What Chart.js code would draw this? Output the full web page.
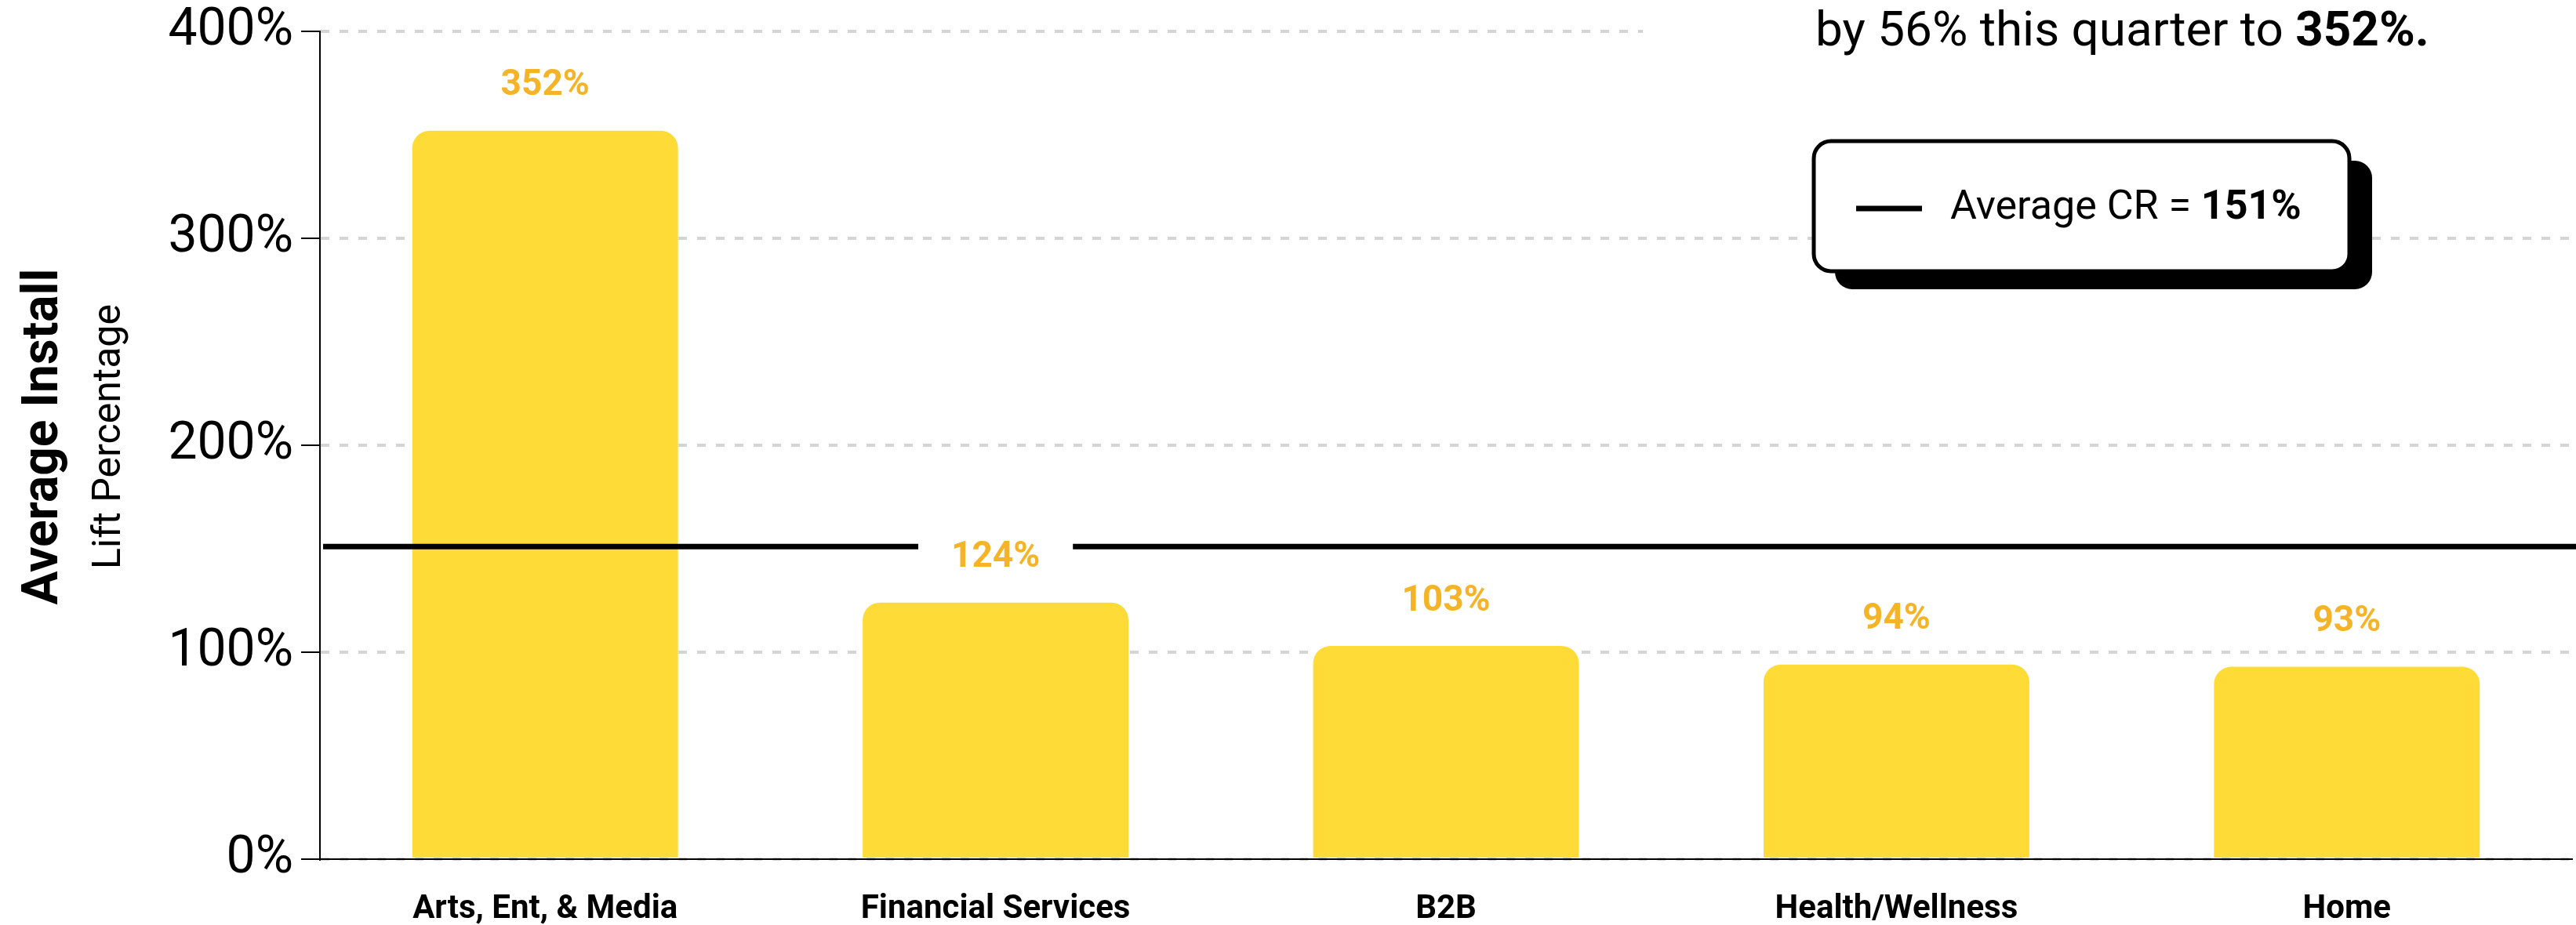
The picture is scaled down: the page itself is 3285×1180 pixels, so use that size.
<!DOCTYPE html>
<html lang="en">
<head>
    <meta charset="UTF-8">
    <title>Average Install Lift Percentage</title>
    <script src="https://cdn.jsdelivr.net/npm/chart.js"></script>
    <style>
        body {
            margin: 0;
            background-color: #ffffff;
        }
        .chart-wrap {
            position: relative;
            width: 3285px;
            height: 1180px;
        }
    </style>
</head>
<body>
    <div class="chart-wrap">
        <canvas id="liftChart"></canvas>
    </div>

    <script>
        const categories = ['Arts, Ent, & Media', 'Financial Services', 'B2B', 'Health/Wellness', 'Home'];
        const liftValues = [352, 124, 103, 94, 93];
        const averageCR = 151;
        const quarterGain = 56;
        const yTicks = [0, 100, 200, 300, 400];

        const FONT = 'Roboto, "Liberation Sans", Arial, sans-serif';
        const BAR_YELLOW = '#FEDB36';
        const LABEL_ORANGE = '#F5B427';

        function roundedRect(ctx, x, y, w, h, r) {
            ctx.beginPath();
            ctx.moveTo(x + r, y);
            ctx.lineTo(x + w - r, y);
            ctx.arcTo(x + w, y, x + w, y + r, r);
            ctx.lineTo(x + w, y + h - r);
            ctx.arcTo(x + w, y + h, x + w - r, y + h, r);
            ctx.lineTo(x + r, y + h);
            ctx.arcTo(x, y + h, x, y + h - r, r);
            ctx.lineTo(x, y + r);
            ctx.arcTo(x, y, x + r, y, r);
            ctx.closePath();
        }

        // text made of a regular part followed by a bold part
        function mixedText(ctx, plain, bold, x, y, size) {
            ctx.font = size + 'px ' + FONT;
            ctx.fillText(plain, x, y);
            const w = ctx.measureText(plain).width;
            ctx.font = 'bold ' + size + 'px ' + FONT;
            ctx.fillText(bold, x + w, y);
        }

        const overlay = {
            id: 'overlay',
            afterDatasetsDraw(chart) {
                const { ctx, chartArea, scales: { y } } = chart;
                ctx.save();

                // average line across the whole plot
                const avgY = y.getPixelForValue(averageCR);
                ctx.strokeStyle = '#000000';
                ctx.lineWidth = 7;
                ctx.beginPath();
                ctx.moveTo(chartArea.left + 4, avgY);
                ctx.lineTo(chart.width, avgY);
                ctx.stroke();

                // value labels over the bars, on a white patch
                ctx.font = 'bold 46px ' + FONT;
                ctx.textAlign = 'center';
                ctx.textBaseline = 'middle';
                chart.getDatasetMeta(0).data.forEach((bar, i) => {
                    const text = liftValues[i] + '%';
                    const ly = bar.y - 57;
                    const w = ctx.measureText(text).width;
                    ctx.fillStyle = '#ffffff';
                    ctx.fillRect(bar.x - w / 2 - 42, ly - 30, w + 84, 60);
                    ctx.fillStyle = LABEL_ORANGE;
                    ctx.fillText(text, bar.x, ly);
                });
                ctx.restore();
            },
            afterDraw(chart) {
                const ctx = chart.ctx;
                ctx.save();

                // axis titles
                ctx.fillStyle = '#000000';
                ctx.textAlign = 'center';
                ctx.textBaseline = 'middle';
                ctx.translate(57, 557);
                ctx.rotate(-Math.PI / 2);
                ctx.font = 'bold 64px ' + FONT;
                ctx.fillText('Average Install', 0, 0);
                ctx.font = '50px ' + FONT;
                ctx.fillText('Lift Percentage', 0, 83);
                ctx.setTransform(1, 0, 0, 1, 0, 0);

                // headline text
                ctx.fillStyle = '#ffffff';
                ctx.fillRect(2095, 0, chart.width - 2095, 80);
                ctx.fillStyle = '#000000';
                ctx.textAlign = 'left';
                ctx.textBaseline = 'alphabetic';
                mixedText(ctx, 'by ' + quarterGain + '% this quarter to ', Math.max(...liftValues) + '%.', 2315, 58, 62);

                // legend card with offset shadow
                ctx.fillStyle = '#000000';
                roundedRect(ctx, 2340, 205, 685, 164, 22);
                ctx.fill();
                roundedRect(ctx, 2313, 180, 683, 166, 22);
                ctx.fillStyle = '#ffffff';
                ctx.fill();
                ctx.lineWidth = 5;
                ctx.strokeStyle = '#000000';
                ctx.stroke();

                ctx.lineWidth = 7;
                ctx.beginPath();
                ctx.moveTo(2367, 266);
                ctx.lineTo(2451, 266);
                ctx.stroke();

                ctx.fillStyle = '#000000';
                ctx.textBaseline = 'middle';
                mixedText(ctx, 'Average CR = ', averageCR + '%', 2487, 266, 52);
                ctx.restore();
            }
        };

        const ctxBar = document.getElementById('liftChart').getContext('2d');
        new Chart(ctxBar, {
            type: 'bar',
            data: {
                labels: categories,
                datasets: [{
                    data: liftValues,
                    backgroundColor: BAR_YELLOW,
                    borderRadius: { topLeft: 22, topRight: 22 },
                    borderSkipped: 'bottom',
                    categoryPercentage: 1,
                    barPercentage: 0.59
                }]
            },
            options: {
                responsive: true,
                maintainAspectRatio: false,
                animation: false,
                devicePixelRatio: 1,
                layout: { padding: { left: 178, top: 40, right: 5, bottom: 0 } },
                plugins: {
                    legend: { display: false },
                    tooltip: { enabled: false }
                },
                scales: {
                    x: {
                        afterFit(scale) { scale.height = 84; },
                        grid: { display: false, drawTicks: false },
                        border: { color: '#000000', width: 2 },
                        ticks: {
                            color: '#000000',
                            padding: 39,
                            font: { family: FONT, size: 42, weight: 'bold' }
                        }
                    },
                    y: {
                        min: 0,
                        max: 400,
                        afterFit(scale) {
                            scale.width = 230;
                            scale.paddingTop = 0;
                            scale.paddingBottom = 0;
                        },
                        afterBuildTicks(scale) { scale.ticks = yTicks.map(v => ({ value: v })); },
                        grid: {
                            color: '#d4d4d4',
                            lineWidth: 4,
                            tickLength: 24,
                            tickColor: '#000000',
                            tickWidth: 2,
                            tickBorderDash: []
                        },
                        border: { color: '#000000', width: 2, dash: [11, 13] },
                        ticks: {
                            color: '#000000',
                            padding: 10,
                            font: { family: FONT, size: 66 },
                            callback: v => v + '%'
                        }
                    }
                }
            },
            plugins: [overlay]
        });
    </script>
</body>
</html>
